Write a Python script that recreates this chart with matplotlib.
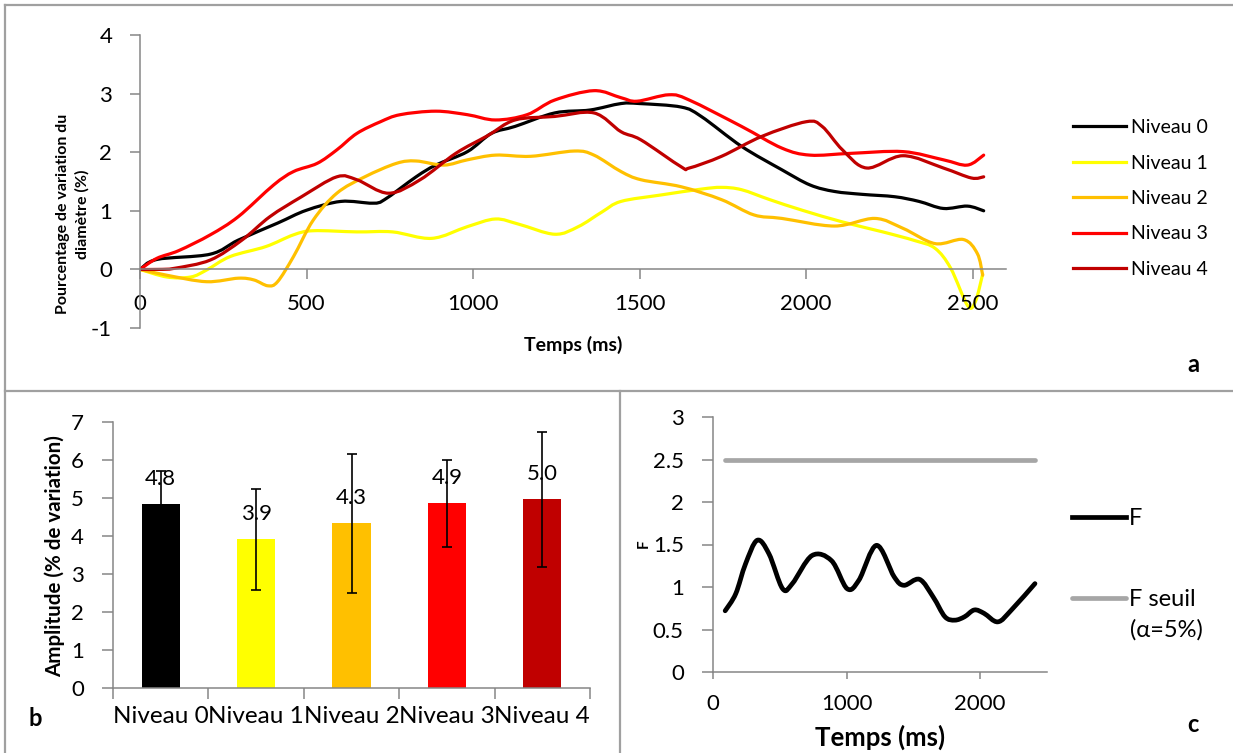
import matplotlib
matplotlib.use("Agg")
import matplotlib.pyplot as plt
from matplotlib.lines import Line2D
from matplotlib.path import Path
from matplotlib.patches import PathPatch

plt.rcParams["font.family"] = ["Lato", "DejaVu Sans"]

W, H = 1233, 753

# --- panel a : variation du diametre ---
niveaux = ["Niveau 0", "Niveau 1", "Niveau 2", "Niveau 3", "Niveau 4"]
couleurs = ["#000000", "#FFFF00", "#FFC000", "#FF0000", "#C00000"]

t0 = [0, 51, 211, 295, 413, 500, 603, 698, 734, 829, 888, 983, 1055, 1126, 1245, 1351, 1444, 1500,
      1625, 1685, 1806, 1927, 2012, 2085, 2170, 2266, 2339, 2412, 2484, 2533]
v0 = [0, 0.17, 0.26, 0.5, 0.79, 1.01, 1.16, 1.13, 1.19, 1.58, 1.78, 2.01, 2.32, 2.44, 2.67, 2.72, 2.83, 2.83,
      2.77, 2.61, 2.10, 1.70, 1.44, 1.33, 1.28, 1.24, 1.16, 1.04, 1.08, 1.00]

t1 = [0, 81, 152, 200, 271, 378, 461, 520, 651, 758, 876, 983, 1067, 1138, 1245, 1316, 1387, 1444, 1564,
      1685, 1746, 1806, 1891, 1988, 2109, 2230, 2327, 2387, 2434, 2485, 2508, 2530]
v1 = [0, -0.13, -0.13, -0.01, 0.22, 0.39, 0.59, 0.66, 0.64, 0.64, 0.53, 0.73, 0.86, 0.77, 0.60, 0.73, 0.98, 1.16, 1.27,
      1.37, 1.40, 1.36, 1.19, 1.01, 0.81, 0.64, 0.49, 0.36, 0.02, -0.62, -0.55, -0.08]

t2 = [0, 81, 200, 295, 342, 384, 413, 461, 520, 591, 675, 770, 829, 912, 983, 1067, 1173, 1304, 1363, 1444,
      1504, 1625, 1746, 1843, 1927, 2085, 2206, 2291, 2387, 2472, 2514, 2530]
v2 = [0, -0.10, -0.21, -0.15, -0.18, -0.28, -0.21, 0.22, 0.84, 1.30, 1.58, 1.81, 1.85, 1.78, 1.87, 1.95, 1.93, 2.02, 1.95, 1.67,
      1.53, 1.41, 1.19, 0.93, 0.87, 0.74, 0.87, 0.70, 0.44, 0.51, 0.27, -0.10]

t3 = [0, 51, 116, 211, 295, 401, 461, 532, 591, 651, 722, 781, 888, 983, 1067, 1162, 1245, 1363, 1444, 1492,
      1588, 1649, 1806, 1927, 2012, 2133, 2291, 2412, 2484, 2533]
v3 = [0, 0.19, 0.32, 0.59, 0.90, 1.44, 1.67, 1.81, 2.04, 2.32, 2.52, 2.64, 2.70, 2.64, 2.55, 2.64, 2.89, 3.05, 2.93, 2.87,
      2.98, 2.89, 2.44, 2.07, 1.95, 1.98, 2.01, 1.87, 1.78, 1.95]

t4 = [0, 57, 105, 211, 306, 390, 485, 591, 651, 746, 841, 948, 1043, 1126, 1245, 1363, 1444, 1504, 1625, 1649,
      1746, 1867, 2000, 2048, 2109, 2182, 2291, 2412, 2496, 2533]
v4 = [0, 0.0, 0.02, 0.16, 0.50, 0.90, 1.24, 1.58, 1.53, 1.30, 1.53, 1.98, 2.28, 2.55, 2.61, 2.67, 2.35, 2.21, 1.75, 1.73,
      1.93, 2.27, 2.52, 2.44, 2.04, 1.73, 1.94, 1.73, 1.56, 1.58]

# --- panel b : amplitude ---
amplitude = [4.84, 3.91, 4.33, 4.86, 4.97]
erreur = [0.86, 1.32, 1.83, 1.14, 1.78]

# --- panel c : statistique F ---
tf = [91, 170, 243, 331, 419, 521, 594, 741, 887, 1004, 1092, 1224, 1356, 1429, 1546, 1649, 1736, 1810,
      1883, 1956, 2029, 2132, 2234, 2410]
vf = [0.72, 0.92, 1.27, 1.55, 1.39, 0.98, 1.04, 1.37, 1.31, 0.98, 1.08, 1.49, 1.12, 1.02, 1.09, 0.88, 0.65, 0.61,
      0.65, 0.73, 0.69, 0.59, 0.73, 1.04]
f_seuil = 2.49

GRIS = "#868686"
TICK_FS = 16


def rect(l, t, r, b):
    return [l / W, 1 - b / H, (r - l) / W, (b - t) / H]


def style_axes(ax):
    for s in ("top", "right"):
        ax.spines[s].set_visible(False)
    for s in ("left", "bottom"):
        ax.spines[s].set_color(GRIS)
        ax.spines[s].set_linewidth(1.1)
    ax.tick_params(colors=GRIS, labelcolor="black", width=1.1, labelsize=TICK_FS)


def courbe_lissee(ax, x, y, color, lw):
    # smoothed line like the spreadsheet one: bezier segments through every point
    n = len(x)
    verts = [(x[0], y[0])]
    codes = [Path.MOVETO]
    for i in range(n - 1):
        a, b = max(i - 1, 0), min(i + 2, n - 1)
        c1 = (x[i] + (x[i + 1] - x[a]) / 6, y[i] + (y[i + 1] - y[a]) / 6)
        c2 = (x[i + 1] - (x[b] - x[i]) / 6, y[i + 1] - (y[b] - y[i]) / 6)
        verts += [c1, c2, (x[i + 1], y[i + 1])]
        codes += [Path.CURVE4] * 3
    ax.add_patch(PathPatch(Path(verts, codes), fill=False, edgecolor=color, lw=lw,
                           capstyle="round", joinstyle="round"))
    return Line2D([], [], color=color, lw=lw)


fig = plt.figure(figsize=(W / 100, H / 100), dpi=100)

# panel borders
bord = dict(color="#a0a0a0", lw=1.6, transform=fig.transFigure)
for (x1, y1, x2, y2) in [(5, 5, W, 5), (5, 5, 5, H), (5, 391, W, 391), (620, 391, 620, H)]:
    fig.add_artist(Line2D([x1 / W, x2 / W], [1 - y1 / H, 1 - y2 / H], **bord))

# ---------------- a ----------------
ax = fig.add_axes(rect(140, 35, 1006, 328))
series = [(t0, v0), (t1, v1), (t2, v2), (t3, v3), (t4, v4)]
poignees = [courbe_lissee(ax, t, v, c, 2.3) for (t, v), c in zip(series, couleurs)]
ax.set_xlim(0, 2600)
ax.set_ylim(-1, 4)
style_axes(ax)
ax.spines["bottom"].set_position(("data", 0))
ax.set_xticks([0, 500, 1000, 1500, 2000, 2500])
ax.set_yticks([-1, 0, 1, 2, 3, 4])
ax.set_yticklabels(["-1", "0", "1", "2", "3", "4"])
ax.tick_params(axis="x", direction="out", length=7, pad=11)
ax.tick_params(axis="y", direction="out", length=7, pad=13)
ax.set_xlabel("Temps (ms)", fontsize=14, fontweight="bold")
ax.xaxis.set_label_coords((573 - 140) / 866, (328 - 345) / 293)
ax.xaxis.label.set_va("center")
ax.set_ylabel("Pourcentage de variation du\ndiamètre (%)", fontsize=11.5, fontweight="bold", linespacing=1.45)
ax.yaxis.set_label_coords((72.5 - 140) / 866, (328 - 214) / 293)
ax.yaxis.label.set_va("center")
ax.legend(poignees, niveaux, loc="center left", bbox_to_anchor=(1073 / W, 1 - 198.5 / H),
          bbox_transform=fig.transFigure, frameon=False, fontsize=14, handlelength=2.75,
          handletextpad=0.25, labelspacing=0.95, borderpad=0, borderaxespad=0)
fig.text(1193 / W, 1 - 365 / H, "a", fontsize=17, fontweight="bold", ha="center", va="center")

# ---------------- b ----------------
axb = fig.add_axes(rect(113, 422, 590, 688))
pos = list(range(len(niveaux)))
axb.bar(pos, amplitude, width=0.4, color=couleurs, zorder=2)
axb.errorbar(pos, amplitude, yerr=erreur, fmt="none", ecolor="black", elinewidth=1.2, capsize=3.5,
             capthick=1.2, zorder=3)
for x, a in zip(pos, amplitude):
    axb.annotate(f"{a:.1f}", (x, a), xytext=(0, 11), textcoords="offset points", ha="center", va="bottom",
                 fontsize=TICK_FS, zorder=4)
axb.set_xlim(-0.5, 4.5)
axb.set_ylim(0, 7)
style_axes(axb)
axb.set_yticks(range(8))
axb.set_xticks(pos)
axb.set_xticklabels(niveaux, fontsize=17.5)
axb.set_xticks([p - 0.5 for p in range(len(niveaux) + 1)], minor=True)
axb.tick_params(axis="x", which="major", length=0, pad=13)
axb.tick_params(axis="x", which="minor", length=8, direction="out", color=GRIS, width=1.1)
axb.tick_params(axis="y", direction="out", length=8, pad=13)
axb.set_ylabel("Amplitude (% de variation)", fontsize=14.8, fontweight="bold")
axb.yaxis.set_label_coords((55 - 113) / 477, (688 - 556) / 266)
axb.yaxis.label.set_va("center")
fig.text(35 / W, 1 - 718 / H, "b", fontsize=17, fontweight="bold", ha="center", va="center")

# ---------------- c ----------------
axc = fig.add_axes(rect(713, 417, 1047, 672))
h_f = courbe_lissee(axc, tf, vf, "black", 3.4)
h_s, = axc.plot([tf[0], tf[-1]], [f_seuil, f_seuil], color="#a6a6a6", lw=3.4, solid_capstyle="round")
axc.set_xlim(0, 2500)
axc.set_ylim(0, 3)
style_axes(axc)
axc.set_xticks([0, 1000, 2000])
axc.set_yticks([0, 0.5, 1, 1.5, 2, 2.5, 3])
axc.set_yticklabels(["0", "0.5", "1", "1.5", "2", "2.5", "3"])
axc.tick_params(axis="x", direction="out", length=5, pad=11)
axc.tick_params(axis="y", direction="out", length=8, pad=13)
axc.set_xlabel("Temps (ms)", fontsize=18.5, fontweight="bold")
axc.xaxis.set_label_coords(0.5, (672 - 737) / 255)
axc.xaxis.label.set_va("center")
axc.set_ylabel("F", fontsize=11, fontweight="bold")
axc.yaxis.set_label_coords((644 - 713) / 334, (672 - 544) / 255)
axc.yaxis.label.set_va("center")
axc.legend([h_f, h_s], ["F", "F seuil"], loc="upper left",
           bbox_to_anchor=(1072 / W, 1 - 508 / H), bbox_transform=fig.transFigure,
           frameon=False, fontsize=17, handlelength=2.3, handletextpad=0.1, labelspacing=2.55,
           borderpad=0, borderaxespad=0)
fig.text(1130 / W, 1 - 630 / H, "(α=5%)", fontsize=17, ha="left", va="center")
fig.text(1193 / W, 1 - 725 / H, "c", fontsize=17, fontweight="bold", ha="center", va="center")

fig.savefig("out.png", dpi=100)
